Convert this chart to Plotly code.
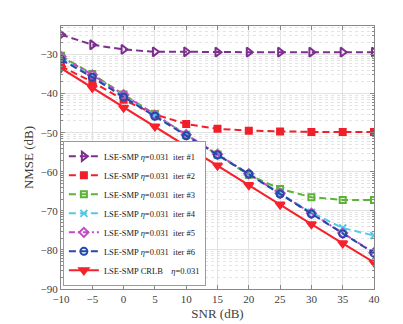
import plotly.graph_objects as go
import math

# SNR axis (dB)
snr = [-10, -5, 0, 5, 10, 15, 20, 25, 30, 35, 40]

# NMSE (dB) per iteration
iter1 = [-24.9, -27.5, -28.7, -29.3, -29.3, -29.4, -29.4, -29.4, -29.4, -29.4, -29.4]
iter2 = [-33.0, -37.0, -41.6, -45.3, -47.8, -49.0, -49.5, -49.7, -49.8, -49.8, -49.8]
iter3 = [-30.3, -35.0, -40.2, -45.3, -50.5, -55.6, -60.8, -64.4, -66.5, -67.2, -67.2]
iter4 = [-31.0, -35.5, -40.6, -45.6, -50.7, -55.7, -60.7, -65.6, -70.4, -74.4, -76.3]
iter5 = [-30.5, -35.2, -40.3, -45.5, -50.5, -55.5, -60.5, -65.5, -70.6, -75.7, -80.7]
iter6 = [-31.3, -35.8, -40.9, -45.8, -50.8, -55.7, -60.6, -65.7, -70.8, -75.9, -80.8]
crlb = [-33.5, -38.5, -43.6, -48.4, -53.4, -58.4, -63.4, -68.4, -73.4, -78.3, -83.2]

eta = "<i>η</i>=0.031"
dash = "7px,4px"
series = [
    ("LSE-SMP " + eta + "  iter #1", iter1, "#7E2F8E", "triangle-right-open", dash, 8),
    ("LSE-SMP " + eta + "  iter #2", iter2, "#F0202A", "square", dash, 6),
    ("LSE-SMP " + eta + "  iter #3", iter3, "#5DB336", "square-open", dash, 6),
    ("LSE-SMP " + eta + "  iter #4", iter4, "#55C8E8", "x-thin-open", dash, 7),
    ("LSE-SMP " + eta + "  iter #5", iter5, "#C04CC0", "diamond-open", "6px,3px,2px,3px", 7),
    ("LSE-SMP " + eta + "  iter #6", iter6, "#2448A8", "circle-open", dash, 7),
    ("LSE-SMP CRLB    " + eta, crlb, "#F5222D", "triangle-down", "solid", 8),
]

fig = go.Figure()
for name, vals, col, sym, dsh, sz in series:
    fig.add_trace(go.Scatter(
        x=snr, y=vals, name=name, mode="lines+markers",
        line=dict(color=col, width=2, dash=dsh),
        marker=dict(symbol=sym, size=sz, color=col, line=dict(color=col, width=2)),
    ))

# log-style minor grid inside each 10 dB decade
minor_y = []
for d in range(-100, -10, 10):
    for k in range(2, 10):
        minor_y.append(d + 10 * math.log10(k))

font = "Liberation Serif, Times New Roman, serif"
fig.update_layout(
    width=403, height=324,
    margin=dict(l=53, r=37, t=18, b=43),
    paper_bgcolor="white", plot_bgcolor="white",
    font=dict(family=font, size=11, color="#404040"),
    showlegend=True,
    legend=dict(
        x=0.006, y=0.012, xanchor="left", yanchor="bottom",
        bgcolor="white", bordercolor="#9a9a9a", borderwidth=1,
        font=dict(family=font, size=8.5, color="#202020"),
        tracegroupgap=0, itemwidth=30,
    ),
    xaxis=dict(
        range=[-10, 40], tickvals=snr, title=dict(text="SNR (dB)", standoff=4),
        showgrid=True, gridcolor="#e2e2e2", gridwidth=1,
        showline=True, linecolor="#888888", mirror="ticks",
        ticks="inside", ticklen=4, tickcolor="#888888", zeroline=False,
    ),
    yaxis=dict(
        range=[-90, -22.7], tickvals=[-90, -80, -70, -60, -50, -40, -30],
        title=dict(text="NMSE (dB)", standoff=4),
        showgrid=True, gridcolor="#e2e2e2", gridwidth=1,
        showline=True, linecolor="#888888", mirror="ticks",
        ticks="inside", ticklen=4, tickcolor="#888888", zeroline=False,
        minor=dict(tickvals=minor_y, showgrid=True, gridcolor="#e4e4e4",
                   griddash="dot", gridwidth=1, ticks="inside", ticklen=2,
                   tickcolor="#888888"),
    ),
)

fig.write_html("out.html")
